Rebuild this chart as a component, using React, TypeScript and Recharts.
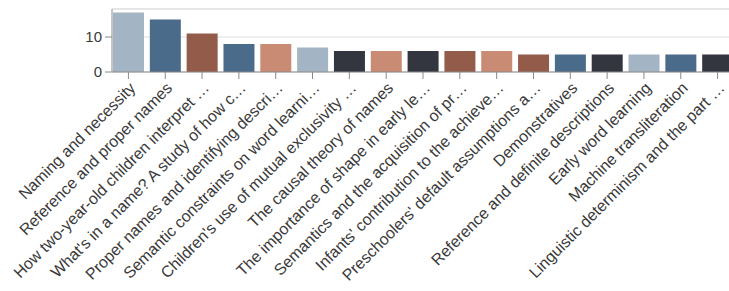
import { BarChart, Bar, XAxis, YAxis, CartesianGrid, Cell, ReferenceLine } from 'recharts';

const titles = [
  'Naming and necessity',
  'Reference and proper names',
  'How two-year-old children interpret …',
  "What's in a name? A study of how c…",
  'Proper names and identifying descri…',
  'Semantic constraints on word learni…',
  "Children's use of mutual exclusivity …",
  'The causal theory of names',
  'The importance of shape in early le…',
  'Semantics and the acquisition of pr…',
  "Infants' contribution to the achieve…",
  "Preschoolers' default assumptions a…",
  'Demonstratives',
  'Reference and definite descriptions',
  'Early word learning',
  'Machine transliteration',
  'Linguistic determinism and the part …',
];

const counts = [17, 15, 11, 8, 8, 7, 6, 6, 6, 6, 6, 5, 5, 5, 5, 5, 5];

const yTicks = [0, 10];

const palette = {
  slate: '#a3b4c4',
  steel: '#4b6b8b',
  brown: '#935b49',
  salmon: '#c98b73',
  ink: '#33353f',
};

const barColors = [
  palette.slate, palette.steel, palette.brown, palette.steel, palette.salmon,
  palette.slate, palette.ink, palette.salmon, palette.ink, palette.brown,
  palette.salmon, palette.brown, palette.steel, palette.ink, palette.slate,
  palette.steel, palette.ink,
];

const data = titles.map((title, i) => ({ title, count: counts[i] }));

const FONT = '"Liberation Sans", Arial, sans-serif';

// eslint-disable-next-line @typescript-eslint/no-explicit-any
function AngledTick({ x, y, payload }: any) {
  return (
    <text
      x={x}
      y={y}
      transform={`rotate(-45, ${x}, ${y})`}
      textAnchor="end"
      dy="0.71em"
      fill="#3a3a3a"
      fontSize={16}
      fontFamily={FONT}
    >
      {payload.value}
    </text>
  );
}

export default function App() {
  return (
    <div
      style={{
        position: 'absolute',
        left: 0,
        top: 0,
        width: 729,
        height: 291,
        overflow: 'hidden',
        background: '#fff',
      }}
    >
      <BarChart
        width={736}
        height={291}
        data={data}
        margin={{ top: 9, right: 0, bottom: 0, left: 0 }}
        barCategoryGap={3}
      >
        <CartesianGrid vertical={false} stroke="#dddddd" />
        <ReferenceLine y={18} stroke="#dddddd" />
        <XAxis
          dataKey="title"
          interval={0}
          height={219}
          padding={{ left: -2, right: 0 }}
          stroke="#8a8a8a"
          tickSize={7}
          tickMargin={2}
          tick={<AngledTick />}
        />
        <YAxis
          width={112}
          domain={[0, 18]}
          ticks={yTicks}
          stroke="#8a8a8a"
          tickSize={7}
          tickMargin={3}
          tick={{ fill: '#3a3a3a', fontSize: 15, fontFamily: FONT }}
        />
        <Bar dataKey="count" isAnimationActive={false}>
          {data.map((d, i) => (
            <Cell key={d.title} fill={barColors[i]} />
          ))}
        </Bar>
      </BarChart>
    </div>
  );
}
